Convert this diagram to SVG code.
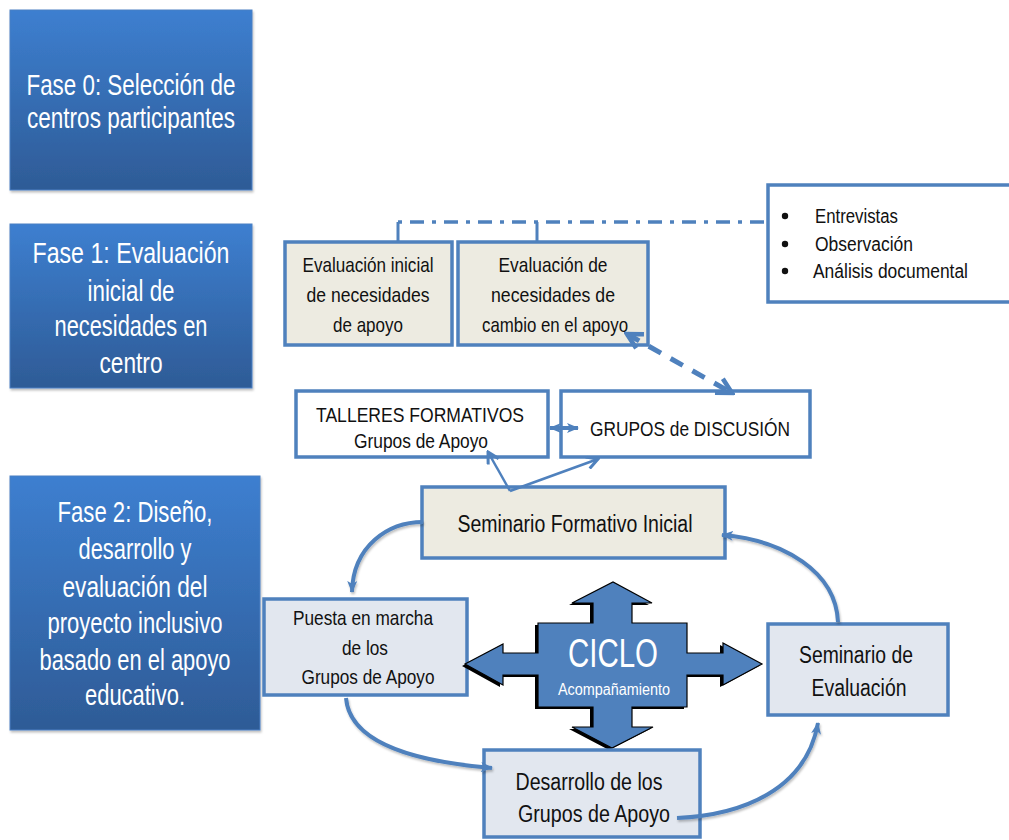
<svg xmlns="http://www.w3.org/2000/svg" width="1009" height="840" viewBox="0 0 1009 840">
<defs>
<linearGradient id="phaseGrad" x1="0" y1="0" x2="0" y2="1">
<stop offset="0" stop-color="#3d7fd0"/>
<stop offset="1" stop-color="#2e5b96"/>
</linearGradient>
<filter id="sh" x="-10%" y="-10%" width="130%" height="130%">
<feDropShadow dx="1" dy="2" stdDeviation="1.2" flood-color="#000" flood-opacity="0.25"/>
</filter>
<marker id="fillHead" viewBox="0 0 12 12" refX="11" refY="6" markerWidth="12" markerHeight="12" markerUnits="userSpaceOnUse" orient="auto">
<path d="M0,1 L12,6 L0,11 L3,6 Z" fill="#4f81bd"/>
</marker>
<marker id="fillHeadStart" viewBox="0 0 12 12" refX="1" refY="6" markerWidth="12" markerHeight="12" markerUnits="userSpaceOnUse" orient="auto">
<path d="M12,1 L0,6 L12,11 L9,6 Z" fill="#4f81bd"/>
</marker>
<marker id="openHead" viewBox="0 0 14 14" refX="12" refY="7" markerWidth="14" markerHeight="14" markerUnits="userSpaceOnUse" orient="auto">
<path d="M1,1 L12,7 L1,13" fill="none" stroke="#4f81bd" stroke-width="3" stroke-linejoin="miter"/>
</marker>
<marker id="bigOpenHead" viewBox="0 0 20 20" refX="17" refY="10" markerWidth="20" markerHeight="20" markerUnits="userSpaceOnUse" orient="auto">
<path d="M2,2 L17,10 L2,18" fill="none" stroke="#4f81bd" stroke-width="4.5"/>
</marker>
<marker id="bigOpenHeadStart" viewBox="0 0 20 20" refX="3" refY="10" markerWidth="20" markerHeight="20" markerUnits="userSpaceOnUse" orient="auto">
<path d="M18,2 L3,10 L18,18" fill="none" stroke="#4f81bd" stroke-width="4.5"/>
</marker>
</defs>
<style>
text { font-family: "Liberation Sans Narrow", "Liberation Sans", Arial, sans-serif; }
.phase rect { fill: url(#phaseGrad); stroke: #4a80c4; stroke-width: 1; }
.phase text { fill: #ffffff; font-size: 30px; text-anchor: middle; }
.beige { fill: #edebe1; stroke: #4f81bd; stroke-width: 3.5; }
.white { fill: #ffffff; stroke: #4f81bd; stroke-width: 3.5; }
.grey { fill: #e2e7ef; stroke: #4f81bd; stroke-width: 3.5; }
.lbl { fill: #111111; font-size: 21px; text-anchor: middle; }
.lbl22 { fill: #111111; font-size: 23px; text-anchor: middle; }
.bul { fill: #111111; font-size: 20px; }
.conn { fill: none; stroke: #4f81bd; }
</style>

<g id="fase0" class="phase">
<rect x="10" y="10" width="242" height="180" filter="url(#sh)"/>
<text x="131" y="95" textLength="209" lengthAdjust="spacingAndGlyphs">Fase 0: Selección de</text>
<text x="131" y="128" textLength="208" lengthAdjust="spacingAndGlyphs">centros participantes</text>
</g>

<g id="fase1" class="phase">
<rect x="10" y="224" width="242" height="164" filter="url(#sh)"/>
<text x="131" y="263" textLength="197" lengthAdjust="spacingAndGlyphs">Fase 1:  Evaluación</text>
<text x="131" y="301" textLength="87" lengthAdjust="spacingAndGlyphs">inicial de</text>
<text x="131" y="336" textLength="153" lengthAdjust="spacingAndGlyphs">necesidades en</text>
<text x="131" y="373" textLength="63" lengthAdjust="spacingAndGlyphs">centro</text>
</g>

<g id="fase2" class="phase">
<rect x="10" y="476" width="250" height="254" filter="url(#sh)"/>
<text x="135" y="522" textLength="155" lengthAdjust="spacingAndGlyphs">Fase 2: Diseño,</text>
<text x="135" y="559" textLength="113" lengthAdjust="spacingAndGlyphs">desarrollo y</text>
<text x="135" y="597" textLength="145" lengthAdjust="spacingAndGlyphs">evaluación del</text>
<text x="135" y="633" textLength="175" lengthAdjust="spacingAndGlyphs">proyecto inclusivo</text>
<text x="135" y="670" textLength="191" lengthAdjust="spacingAndGlyphs">basado en el apoyo</text>
<text x="135" y="705" textLength="100" lengthAdjust="spacingAndGlyphs">educativo.</text>
</g>

<g id="metodos">
<rect class="white" x="768" y="185" width="250" height="117"/>
<circle cx="785" cy="216" r="3.2" fill="#111"/>
<circle cx="785" cy="244" r="3.2" fill="#111"/>
<circle cx="785" cy="271" r="3.2" fill="#111"/>
<text class="bul" x="815" y="223" textLength="83" lengthAdjust="spacingAndGlyphs">Entrevistas</text>
<text class="bul" x="815" y="251" textLength="98" lengthAdjust="spacingAndGlyphs">Observación</text>
<text class="bul" x="813" y="278" textLength="155" lengthAdjust="spacingAndGlyphs">Análisis documental</text>
</g>

<g id="eval-inicial">
<rect class="beige" x="285" y="242" width="167" height="103"/>
<text class="lbl" x="368" y="272" textLength="131" lengthAdjust="spacingAndGlyphs">Evaluación inicial</text>
<text class="lbl" x="368" y="302" textLength="123" lengthAdjust="spacingAndGlyphs">de necesidades</text>
<text class="lbl" x="368" y="332" textLength="70" lengthAdjust="spacingAndGlyphs">de apoyo</text>
</g>

<g id="eval-cambio">
<rect class="beige" x="458" y="242" width="190" height="103"/>
<text class="lbl" x="553" y="272" textLength="109" lengthAdjust="spacingAndGlyphs">Evaluación de</text>
<text class="lbl" x="553" y="302" textLength="124" lengthAdjust="spacingAndGlyphs">necesidades de</text>
<text class="lbl" x="555" y="332" textLength="146" lengthAdjust="spacingAndGlyphs">cambio en el apoyo</text>
</g>

<g id="talleres">
<rect class="white" x="296" y="391" width="252" height="66"/>
<text class="lbl" x="420" y="422" textLength="208" lengthAdjust="spacingAndGlyphs">TALLERES FORMATIVOS</text>
<text class="lbl" x="421" y="448" textLength="134" lengthAdjust="spacingAndGlyphs">Grupos de Apoyo</text>
</g>

<g id="grupos-discusion">
<rect class="white" x="561" y="391" width="249" height="66"/>
<text class="lbl" x="690" y="436" textLength="200" lengthAdjust="spacingAndGlyphs">GRUPOS de DISCUSIÓN</text>
</g>

<g id="seminario-inicial">
<rect class="beige" x="422" y="487" width="303" height="71"/>
<text class="lbl22" x="575" y="532" textLength="235" lengthAdjust="spacingAndGlyphs">Seminario Formativo Inicial</text>
</g>

<g id="puesta">
<rect class="grey" x="264" y="599" width="203" height="96"/>
<text class="lbl" x="363" y="625" textLength="140" lengthAdjust="spacingAndGlyphs">Puesta en marcha</text>
<text class="lbl" x="365" y="655" textLength="46" lengthAdjust="spacingAndGlyphs">de los</text>
<text class="lbl" x="368" y="684" textLength="133" lengthAdjust="spacingAndGlyphs">Grupos de Apoyo</text>
</g>

<g id="ciclo">
<path d="M538,623 H593 V603 H572 L613,582 L652,603 H632 V623 H687 V653 H723 V643 L762,664 L723,685 V675 H687 V707 H632 V727 H653 L612,748 L572,727 H593 V707 H538 V675 H503 V685 L465,664 L503,644 V653 H538 Z" fill="#000" transform="translate(-3,2)"/>
<path d="M538,623 H593 V603 H572 L613,582 L652,603 H632 V623 H687 V653 H723 V643 L762,664 L723,685 V675 H687 V707 H632 V727 H653 L612,748 L572,727 H593 V707 H538 V675 H503 V685 L465,664 L503,644 V653 H538 Z" fill="#4f81bd" stroke="#000" stroke-width="1.2"/>
<text x="613" y="667" fill="#fff" font-size="40" text-anchor="middle" textLength="90" lengthAdjust="spacingAndGlyphs">CICLO</text>
<text x="614" y="695" fill="#fff" font-size="16" text-anchor="middle" textLength="112" lengthAdjust="spacingAndGlyphs">Acompañamiento</text>
</g>

<g id="seminario-evaluacion">
<rect class="grey" x="768" y="624" width="180" height="91"/>
<text class="lbl22" x="856" y="663" textLength="114" lengthAdjust="spacingAndGlyphs">Seminario de</text>
<text class="lbl22" x="859" y="696" textLength="95" lengthAdjust="spacingAndGlyphs">Evaluación</text>
</g>

<g id="desarrollo">
<rect class="grey" x="484" y="750" width="216" height="87"/>
<text class="lbl22" x="589" y="790" textLength="147" lengthAdjust="spacingAndGlyphs">Desarrollo de los</text>
<text class="lbl22" x="594" y="822" textLength="152" lengthAdjust="spacingAndGlyphs">Grupos de Apoyo</text>
</g>

<g id="connectors">
<path class="conn" d="M398,222 H767" stroke-width="3.5" stroke-dasharray="4 8 14 8"/>
<path class="conn" d="M398,222 V241" stroke-width="3"/>
<path class="conn" d="M537,222 V241" stroke-width="3"/>
<path class="conn" d="M627,334 L732,393" stroke-width="5" stroke-dasharray="14 11" marker-start="url(#bigOpenHeadStart)" marker-end="url(#bigOpenHead)"/>
<path class="conn" d="M550,428 L578,428" stroke-width="4" marker-start="url(#fillHeadStart)" marker-end="url(#fillHead)"/>
<path class="conn" d="M510,491 L488,452" stroke-width="2.5" marker-end="url(#openHead)"/>
<path class="conn" d="M510,491 L598,459" stroke-width="2.5" marker-end="url(#openHead)"/>
<path class="conn" d="M423,522 C388,522 353,546 352,592" stroke-width="4" marker-end="url(#fillHead)" filter="url(#sh)"/>
<path class="conn" d="M838,622 C836,572 784,540 722,535" stroke-width="4" marker-end="url(#fillHead)" filter="url(#sh)"/>
<path class="conn" d="M346,698 C350,745 420,762 492,768" stroke-width="4" marker-end="url(#fillHead)" filter="url(#sh)"/>
<path class="conn" d="M677,818 C742,815 806,790 818,723" stroke-width="4" marker-end="url(#fillHead)" filter="url(#sh)"/>
</g>
</svg>
